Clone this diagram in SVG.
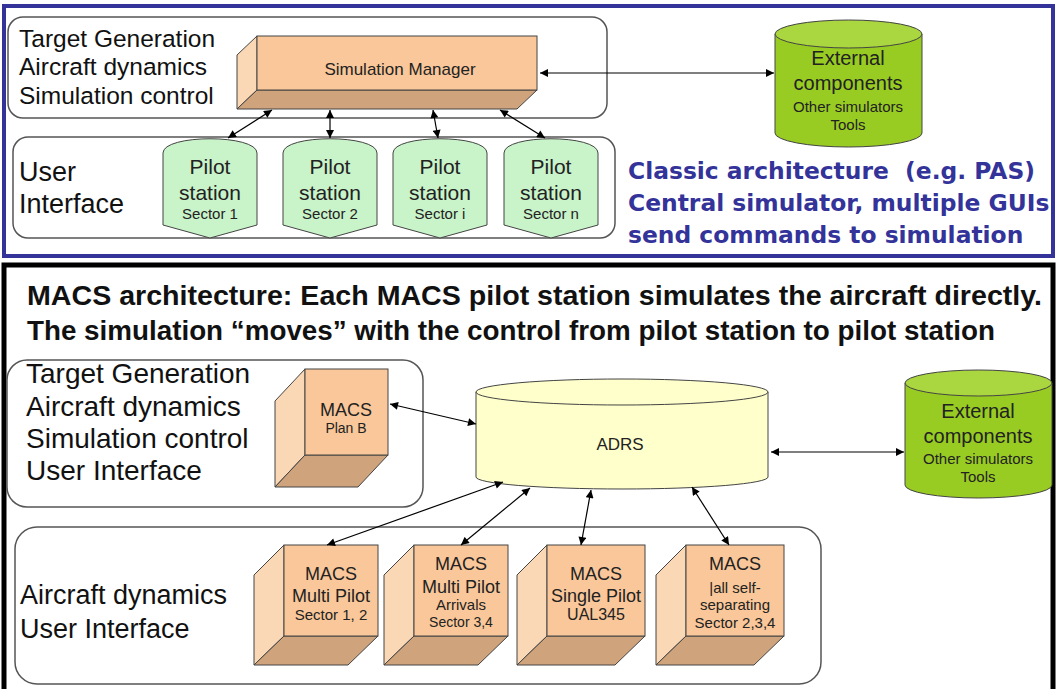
<svg xmlns="http://www.w3.org/2000/svg" width="1058" height="689" viewBox="0 0 1058 689">
<defs>
<marker id="ah" viewBox="0 0 10 10" refX="10" refY="5" markerWidth="9" markerHeight="8" markerUnits="userSpaceOnUse" orient="auto-start-reverse"><path d="M0,0 L10,5 L0,10 Z" fill="#000"/></marker>
</defs>
<style>
.frame{fill:#fff;stroke:#555;stroke-width:1.5}
.lbl{font-family:"Liberation Sans",Arial,sans-serif;fill:#111}
.f{fill:#f9c799;stroke:#444;stroke-width:1}
.s{fill:#fbd8b5;stroke:#444;stroke-width:1}
.b{fill:#cfa37b;stroke:#444;stroke-width:1}
.pil{fill:#c9f3c9;stroke:#444;stroke-width:1}
.grn{fill:#99cc22;stroke:#444;stroke-width:1}
.grnt{fill:#aad640;stroke:#444;stroke-width:1}
.yel{fill:#ffffcc;stroke:#444;stroke-width:1}
.conn{stroke:#000;stroke-width:1.2;fill:none;marker-start:url(#ah);marker-end:url(#ah)}
.t{font-family:"Liberation Sans",Arial,sans-serif;fill:#222;text-anchor:middle}
.blue{font-family:"DejaVu Sans",Verdana,sans-serif;font-weight:bold;font-size:23.4px;fill:#333399}
.hdr{font-family:"Liberation Sans",Arial,sans-serif;font-weight:bold;font-size:27px;fill:#111}
</style>

<!-- panels -->
<rect x="4" y="6" width="1049" height="250" fill="#fff" stroke="#33339a" stroke-width="4"/>
<rect x="4" y="265" width="1049" height="440" fill="#fff" stroke="#000" stroke-width="5"/>

<g id="top-sim-frame">
<rect class="frame" x="8" y="17" width="599" height="101" rx="15"/>
<text class="lbl" x="19" y="47" font-size="24.5">Target Generation</text>
<text class="lbl" x="19" y="75" font-size="24.5">Aircraft dynamics</text>
<text class="lbl" x="19" y="104" font-size="24.5">Simulation control</text>
</g>
<g id="top-ui-frame">
<rect class="frame" x="13" y="137" width="602" height="101" rx="15"/>
<text class="lbl" x="19" y="181" font-size="27">User</text>
<text class="lbl" x="19" y="213" font-size="27">Interface</text>
</g>

<g id="sim-manager">
<path class="s" d="M257,36 L237,55 L237,109 L257,90 Z"/>
<path class="b" d="M257,90 L537,90 L517,109 L237,109 Z"/>
<rect class="f" x="257" y="36" width="280" height="54"/>
<text class="t" x="400" y="75" font-size="17">Simulation Manager</text>
</g>

<g id="ext-top">
<path class="grn" d="M775,34 L775,133 A73.5,14 0 0 0 922,133 L922,34 Z"/>
<ellipse class="grnt" cx="848.5" cy="34" rx="73.5" ry="14"/>
<text class="t" x="848" y="65" font-size="20">External</text>
<text class="t" x="848" y="90" font-size="20">components</text>
<text class="t" x="848" y="112" font-size="15">Other simulators</text>
<text class="t" x="848" y="130" font-size="15">Tools</text>
</g>

<g id="pilot1">
<path class="pil" d="M163,153 C163,134 257,134 257,153 L257,225 L210,238 L163,225 Z"/>
<text class="t" x="210" y="174" font-size="21">Pilot</text>
<text class="t" x="210" y="200" font-size="21">station</text>
<text class="t" x="210" y="219" font-size="15">Sector 1</text>
</g>
<g id="pilot2">
<path class="pil" d="M283,153 C283,134 377,134 377,153 L377,225 L330,238 L283,225 Z"/>
<text class="t" x="330" y="174" font-size="21">Pilot</text>
<text class="t" x="330" y="200" font-size="21">station</text>
<text class="t" x="330" y="219" font-size="15">Sector 2</text>
</g>
<g id="pilot3">
<path class="pil" d="M393,153 C393,134 487,134 487,153 L487,225 L440,238 L393,225 Z"/>
<text class="t" x="440" y="174" font-size="21">Pilot</text>
<text class="t" x="440" y="200" font-size="21">station</text>
<text class="t" x="440" y="219" font-size="15">Sector i</text>
</g>
<g id="pilot4">
<path class="pil" d="M504,153 C504,134 598,134 598,153 L598,225 L551,238 L504,225 Z"/>
<text class="t" x="551" y="174" font-size="21">Pilot</text>
<text class="t" x="551" y="200" font-size="21">station</text>
<text class="t" x="551" y="219" font-size="15">Sector n</text>
</g>

<g id="classic-text">
<text class="blue" x="628" y="179" xml:space="preserve">Classic architecture  (e.g. PAS)</text>
<text class="blue" x="628" y="211">Central simulator, multiple GUIs</text>
<text class="blue" x="628" y="243">send commands to simulation</text>
</g>

<g id="macs-header">
<text class="hdr" x="27" y="305" textLength="1015" lengthAdjust="spacingAndGlyphs">MACS architecture: Each MACS pilot station simulates the aircraft directly.</text>
<text class="hdr" x="27" y="340" textLength="968" lengthAdjust="spacingAndGlyphs">The simulation “moves” with the control from pilot station to pilot station</text>
</g>

<g id="macs-sim-frame">
<rect class="frame" x="7" y="360" width="416" height="147" rx="20"/>
<text class="lbl" x="26" y="383" font-size="28">Target Generation</text>
<text class="lbl" x="26" y="416" font-size="28">Aircraft dynamics</text>
<text class="lbl" x="26" y="448" font-size="28">Simulation control</text>
<text class="lbl" x="26" y="480" font-size="28">User Interface</text>
</g>

<g id="macs-planb">
<path class="s" d="M305,369 L275,401 L275,487 L305,455 Z"/>
<path class="b" d="M305,455 L388,455 L358,487 L275,487 Z"/>
<rect class="f" x="305" y="369" width="83" height="86"/>
<text class="t" x="346" y="416" font-size="18">MACS</text>
<text class="t" x="346" y="433" font-size="14">Plan B</text>
</g>

<g id="adrs">
<path class="yel" d="M476,392 L476,477 A146,12 0 0 0 768,477 L768,392 Z"/>
<ellipse class="yel" cx="622" cy="392" rx="146" ry="13"/>
<text class="t" x="620" y="450" font-size="17">ADRS</text>
</g>

<g id="ext-bottom">
<path class="grn" d="M905,383 L905,485 A73.5,13 0 0 0 1052,485 L1052,383 Z"/>
<ellipse class="grnt" cx="978.5" cy="383" rx="73.5" ry="13"/>
<text class="t" x="978" y="418" font-size="20">External</text>
<text class="t" x="978" y="443" font-size="20">components</text>
<text class="t" x="978" y="464" font-size="15">Other simulators</text>
<text class="t" x="978" y="482" font-size="15">Tools</text>
</g>

<g id="macs-ui-frame">
<rect class="frame" x="15" y="527" width="806" height="157" rx="22"/>
<text class="lbl" x="20" y="604" font-size="27">Aircraft dynamics</text>
<text class="lbl" x="20" y="638" font-size="27">User Interface</text>
</g>

<g id="macs1">
<path class="s" d="M284,545 L254,575 L254,665 L284,636 Z"/>
<path class="b" d="M284,636 L378,636 L348,665 L254,665 Z"/>
<rect class="f" x="284" y="545" width="94" height="91"/>
<text class="t" x="331" y="580" font-size="18">MACS</text>
<text class="t" x="331" y="602" font-size="18">Multi Pilot</text>
<text class="t" x="331" y="620" font-size="15">Sector 1, 2</text>
</g>
<g id="macs2">
<path class="s" d="M414,545 L384,575 L384,665 L414,636 Z"/>
<path class="b" d="M414,636 L508,636 L478,665 L384,665 Z"/>
<rect class="f" x="414" y="545" width="94" height="91"/>
<text class="t" x="461" y="570" font-size="18">MACS</text>
<text class="t" x="461" y="593" font-size="18">Multi Pilot</text>
<text class="t" x="461" y="610" font-size="15">Arrivals</text>
<text class="t" x="461" y="627" font-size="14">Sector 3,4</text>
</g>
<g id="macs3">
<path class="s" d="M547,545 L517,575 L517,665 L547,636 Z"/>
<path class="b" d="M547,636 L645,636 L615,665 L517,665 Z"/>
<rect class="f" x="547" y="545" width="98" height="91"/>
<text class="t" x="596" y="580" font-size="18">MACS</text>
<text class="t" x="596" y="602" font-size="18">Single Pilot</text>
<text class="t" x="596" y="620" font-size="16">UAL345</text>
</g>
<g id="macs4">
<path class="s" d="M686,545 L656,575 L656,665 L686,636 Z"/>
<path class="b" d="M686,636 L784,636 L754,665 L656,665 Z"/>
<rect class="f" x="686" y="545" width="98" height="91"/>
<text class="t" x="735" y="570" font-size="18">MACS</text>
<text class="t" x="735" y="593" font-size="15">|all self-</text>
<text class="t" x="735" y="610" font-size="15">separating</text>
<text class="t" x="735" y="628" font-size="15">Sector 2,3,4</text>
</g>

<g id="connectors">
<line class="conn" x1="540" y1="73" x2="774" y2="73"/>
<line class="conn" x1="272" y1="110" x2="228" y2="138"/>
<line class="conn" x1="330" y1="110" x2="330" y2="138"/>
<line class="conn" x1="433" y1="110" x2="438" y2="138"/>
<line class="conn" x1="500" y1="110" x2="545" y2="138"/>
<line class="conn" x1="390" y1="404" x2="476" y2="424"/>
<line class="conn" x1="771" y1="452" x2="904" y2="452"/>
<line class="conn" x1="503" y1="482" x2="327" y2="545"/>
<line class="conn" x1="530" y1="488" x2="461" y2="545"/>
<line class="conn" x1="591" y1="490" x2="581" y2="545"/>
<line class="conn" x1="692" y1="487" x2="729" y2="545"/>
</g>
</svg>
